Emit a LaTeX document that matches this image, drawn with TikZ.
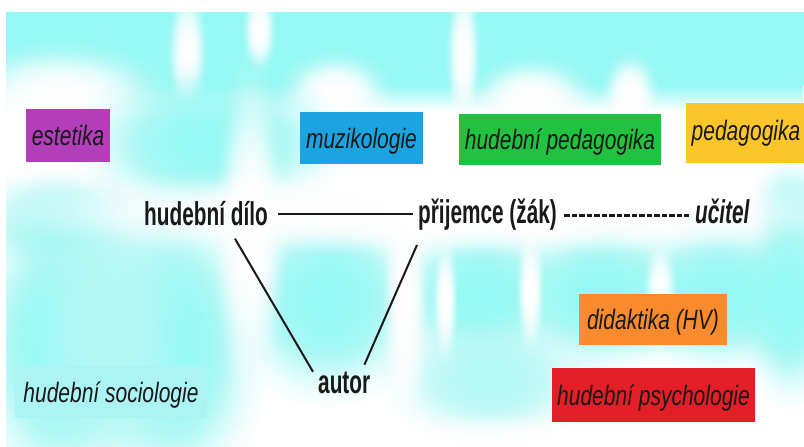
\documentclass[tikz,border=0pt]{standalone}
\usepackage{fontspec}
\usetikzlibrary{fadings,calc}
\newfontfamily\labfont[FakeStretch=0.75]{Liberation Sans}
\newfontfamily\wordfont[FakeStretch=0.63]{Liberation Sans}
\definecolor{bgc}{RGB}{150,248,244}
\definecolor{bgsoft}{RGB}{182,249,247}
\definecolor{txt}{RGB}{25,25,25}
\definecolor{cpurple}{RGB}{178,62,186}
\definecolor{cblue}{RGB}{28,164,226}
\definecolor{cgreen}{RGB}{34,194,64}
\definecolor{cyellow}{RGB}{252,198,42}
\definecolor{corange}{RGB}{249,138,46}
\definecolor{cred}{RGB}{226,30,38}
\definecolor{ccyan}{RGB}{172,243,243}
\tikzfading[name=softblob, inner color=transparent!0, outer color=transparent!100]
\tikzfading[name=fadedown, top color=transparent!0, bottom color=transparent!100]
% soft blob: colour, x, y, x radius, y radius
\newcommand\bgblob[5]{%
  \fill[#1, path fading=softblob] (#2,#3) ellipse [x radius=1.5*#4, y radius=1.5*#5];
  \fill[#1, path fading=softblob] (#2,#3) ellipse [x radius=1.25*#4, y radius=1.25*#5];
  \fill[#1, path fading=softblob] (#2,#3) ellipse [x radius=#4, y radius=#5];}
\begin{document}
\begin{tikzpicture}[x=1pt,y=-1pt,
  lab/.style={font=\labfont\itshape\fontsize{28}{30}\selectfont, text=txt,
    inner sep=0pt, text height=20pt, text depth=0pt},
  box/.style={lab, minimum width=#1},
  word/.style={font=\wordfont\bfseries\fontsize{33}{36}\selectfont, text=txt,
    inner sep=0pt, text height=24pt, text depth=0pt, anchor=base west},
  conn/.style={line width=2pt, draw=txt}]
\useasboundingbox (0,0) rectangle (804,447);
\fill[white] (0,0) rectangle (804,447);
% background
\begin{scope}
\clip (6,12) rectangle (804,447);
% top band
\fill[bgc] (6,12) rectangle (804,85);
\fill[bgc, path fading=fadedown] (6,85) rectangle (804,112);
\bgblob{white}{60}{100}{80}{40}
\bgblob{white}{187}{55}{14}{50}
\bgblob{white}{259}{30}{12}{30}
\bgblob{white}{335}{95}{40}{30}
\bgblob{white}{463}{55}{12}{55}
\bgblob{white}{532}{100}{45}{30}
\bgblob{white}{630}{95}{20}{30}
% cyan blob between estetika and muzikologie
\bgblob{bgc}{210}{142}{95}{55}
% text row edges
\bgblob{bgsoft}{55}{220}{65}{35}
\bgblob{bgsoft}{792}{215}{30}{40}
% left lower region
\bgblob{bgc}{60}{345}{65}{110}
\bgblob{bgc}{172}{345}{65}{110}
\bgblob{bgsoft}{110}{330}{55}{100}
% triangle interior
\bgblob{bgc}{328}{300}{72}{72}
% right lower region
\bgblob{bgc}{480}{295}{65}{55}
\bgblob{bgc}{600}{295}{70}{55}
\bgblob{bgc}{720}{295}{75}{55}
\bgblob{bgc}{790}{305}{35}{70}
\bgblob{bgsoft}{490}{378}{75}{45}
\bgblob{white}{530}{290}{10}{45}
\bgblob{white}{445}{300}{9}{45}
\bgblob{white}{660}{295}{12}{40}
% keep the text row and the bottom light
\bgblob{white}{430}{212}{330}{30}
\bgblob{white}{250}{232}{25}{120}
\bgblob{white}{405}{300}{16}{100}
\bgblob{white}{560}{450}{260}{25}
\end{scope}
% labelled boxes
\node[box=84pt, minimum height=53pt, fill=cpurple] (est) at (68,135.5) {estetika};
\node[box=123pt, minimum height=52pt, fill=cblue] (muz) at (361.5,138) {muzikologie};
\node[box=202pt, minimum height=51pt, fill=cgreen] (hped) at (560,139.5) {hudební pedagogika};
\node[box=120pt, minimum height=60pt, fill=cyellow, text height=15pt] (ped) at (746,133) {pedagogika};
\node[box=148pt, minimum height=51pt, fill=corange] (did) at (653,319.5) {didaktika (HV)};
\node[box=203pt, minimum height=54pt, fill=cred] (psy) at (653.5,395) {hudební psychologie};
\node[box=192pt, minimum height=52pt, fill=ccyan] (soc) at (111,392) {hudební sociologie};
% main words
\node[word] (dilo) at (144,225.7) {hudební dílo};
\node[word] (prij) at (418,223) {přijemce (žák)};
\node[word, font=\wordfont\bfseries\itshape\fontsize{33}{36}\selectfont] (ucitel) at (695,223) {učitel};
\node[word] (autor) at (318,393) {autor};
% connectors
\draw[conn] ($(dilo.east)+(10,0)$) -- ($(prij.west |- dilo.east)+(-5,0)$);
\draw[conn, line width=3pt, dash pattern=on 5.5pt off 2pt]
  ($(prij.base east)+(7,-8)$) -- ($(ucitel.base west)+(-6,-8)$);
\draw[conn] ($(dilo.base west)+(91,13)$) -- ($(autor.north west)+(-5,3)$);
\draw[conn] ($(prij.base west)+(-1,22)$) -- ($(autor.north east)+(-6,-4)$);
\end{tikzpicture}
\end{document}
